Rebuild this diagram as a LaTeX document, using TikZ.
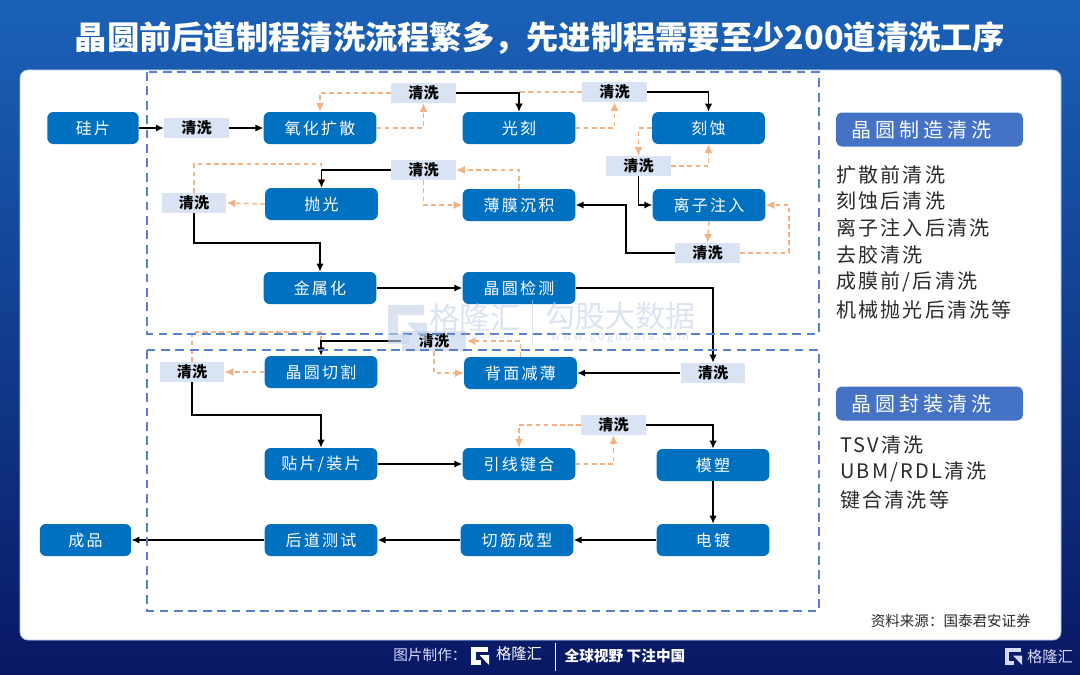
\documentclass[tikz,border=0pt]{standalone}
\usepackage{fontspec}
\setmainfont{Noto Sans CJK SC}
\newfontfamily\boxfont[LetterSpace=14]{Noto Sans CJK SC}
\newfontfamily\listfont[LetterSpace=11]{Noto Sans CJK SC}
\newfontfamily\headfont[LetterSpace=20]{Noto Sans CJK SC}
\newfontfamily\urlfont[LetterSpace=18]{Noto Sans CJK SC}
\usetikzlibrary{arrows.meta,shadings}
\definecolor{boxblue}{HTML}{0070C0}
\definecolor{cleanbg}{HTML}{DAE3F3}
\definecolor{flowor}{HTML}{F4B183}
\definecolor{framebl}{HTML}{5B7FD0}
\definecolor{headbl}{HTML}{4472C4}
\definecolor{wmark}{HTML}{C3D1E8}
\definecolor{listtx}{HTML}{2A2A2A}
\definecolor{bgtop}{RGB}{26,98,184}
\definecolor{bgmid}{RGB}{11,66,160}
\definecolor{bgbot}{RGB}{9,24,100}
\definecolor{panelrim}{HTML}{A9C4EC}
\newcommand{\glogo}[4]{%
  \draw[#4,line width=#3*0.25*0.75pt,line join=miter]
    ([shift={(#3*0.92,#3*0.13)}]#1,#2) -- ([shift={(#3*0.13,#3*0.13)}]#1,#2)
    -- ([shift={(#3*0.13,#3*0.87)}]#1,#2) -- ([shift={(#3*0.55,#3*0.87)}]#1,#2);
  \fill[#4] ([shift={(#3*0.48,#3*0.45)}]#1,#2) -- ([shift={(#3*1,#3*0.45)}]#1,#2)
    -- ([shift={(#3*1,#3*1)}]#1,#2) -- cycle;
}
\tikzset{
  x=0.75pt,y=-0.75pt,
  stage/.style={fill=boxblue,rounded corners=4.5pt,text=white,font=\boxfont\fontsize{12}{14}\selectfont,
    minimum width=84.5pt,minimum height=24pt,inner sep=0pt,draw=none},
  endstage/.style={stage,minimum width=68.5pt},
  clean/.style={fill=cleanbg,text=black,font=\fontsize{11.3}{13}\selectfont\bfseries,
    minimum width=48.5pt,minimum height=15pt,inner sep=0pt},
  go/.style={draw=black,line width=1.3pt,-{Latex[length=6pt,width=5.5pt]}},
  back/.style={draw=flowor,line width=1pt,dash pattern=on 3.5pt off 2.6pt,-{Latex[length=6.5pt,width=6pt]}},
  zone/.style={draw=framebl,line width=1.45pt,dash pattern=on 6.6pt off 4.2pt},
  head/.style={fill=headbl,rounded corners=4pt,text=white,font=\headfont\fontsize{15}{18}\selectfont,
    minimum width=140pt,minimum height=25.5pt,inner sep=0pt},
  listitem/.style={anchor=west,text=listtx,inner sep=0pt,font=\listfont\fontsize{15}{18}\selectfont},
  foot/.style={text=white,inner sep=0pt},
}
\begin{document}
\begin{tikzpicture}
\useasboundingbox (0,0) rectangle (1080,674);
\shade[top color=bgtop,middle color=bgmid,bottom color=bgbot] (0,0) rectangle (1080,674);
\fill[white,draw=panelrim,line width=0.6pt,rounded corners=6pt] (20,70) rectangle (1061,640);

\node[foot,font=\fontsize{24.2}{28}\selectfont\bfseries] (title) at (540,38) {晶圆前后道制程清洗流程繁多\symbol{"FF0C}先进制程需要至少200道清洗工序};

% stages
\node[endstage] (si) at (93,128) {硅片};
\node[stage] (ox) at (320,128) {氧化扩散};
\node[stage] (litho) at (519,128) {光刻};
\node[stage] (etch) at (708.5,128) {刻蚀};
\node[stage] (ion) at (709,205) {离子注入};
\node[stage] (film) at (519,205) {薄膜沉积};
\node[stage] (polish) at (321.5,204) {抛光};
\node[stage] (metal) at (320,288) {金属化};
\node[stage] (check) at (519,288) {晶圆检测};
\node[stage] (dice) at (321,372) {晶圆切割};
\node[stage] (thin) at (520.5,373) {背面减薄};
\node[stage] (mount) at (321,464) {贴片/装片};
\node[stage] (bond) at (519,464) {引线键合};
\node[stage] (mold) at (713,465) {模塑};
\node[stage] (plate) at (713,540) {电镀};
\node[stage] (trim) at (517,540) {切筋成型};
\node[stage] (test) at (321,540) {后道测试};
\node[endstage] (done) at (85.5,540) {成品};

% cleaning steps
\node[clean] (c1) at (196.5,128) {清洗};
\node[clean] (c2) at (423.5,93) {清洗};
\node[clean] (c3) at (614.5,92) {清洗};
\node[clean] (c4) at (638.5,166) {清洗};
\node[clean] (c5) at (707.5,253) {清洗};
\node[clean] (c6) at (423.5,170) {清洗};
\node[clean] (c7) at (194,203) {清洗};
\node[clean] (c8) at (434,341) {清洗};
\node[clean] (c9) at (713,373) {清洗};
\node[clean] (c10) at (192,372) {清洗};
\node[clean] (c11) at (613.5,425) {清洗};

% bend points
\coordinate (r1) at (789,253);
\coordinate (w1) at (626,253);
\coordinate (t1) at (194,164);
\coordinate (t2) at (321.5,164);
\coordinate (m1) at (320,243);
\coordinate (t3) at (192,332);
\coordinate (t4) at (321,332);
\coordinate (m2) at (321,415);

% dashed return flows
\draw[back] (ox.east) -| (c2.south);
\draw[back] (c2.west) -| (ox.north);
\draw[back] (litho.east) -| (c3.south);
\draw[back] (c3.west) -| (litho.north);
\draw[back] (etch.west) -| (c4.north);
\draw[back] (c4.east) -| (etch.south);
\draw[back] (ion.south) -- (c5.north);
\draw[back] (c5.east) -- (r1) |- (ion.east);
\draw[back] (film.north) |- (c6.east);
\draw[back] (c6.south) |- (film.west);
\draw[back] (polish.west) -- (c7.east);
\draw[back] (c7.north) -- (t1) -- (t2) -- (polish.north);
\draw[back] (thin.north) |- (c8.east);
\draw[back] (c8.south) |- (thin.west);
\draw[back] (dice.west) -- (c10.east);
\draw[back] (c10.north) -- (t3) -- (t4) -- (dice.north);
\draw[back] (bond.east) -| (c11.south);
\draw[back] (c11.west) -| (bond.north);

% main flow
\draw[go] (si) -- (c1);
\draw[go] (c1) -- (ox);
\draw[go] (c2.east) -| (litho.north);
\draw[go] (c3.east) -| (etch.north);
\draw[go] (c4.south) |- (ion.west);
\draw[go] (c5.west) -- (w1) |- (film.east);
\draw[go] (c6.west) -| (polish.north);
\draw[go] (c7.south) |- (m1) -- (metal.north);
\draw[go] (metal) -- (check);
\draw[go] (check.east) -| (c9.north);
\draw[go] (c9.west) -- (thin.east);
\draw[go] (c8.west) -| (dice.north);
\draw[go] (c10.south) |- (m2) -- (mount.north);
\draw[go] (mount) -- (bond);
\draw[go] (c11.east) -| (mold.north);
\draw[go] (mold) -- (plate);
\draw[go] (plate) -- (trim);
\draw[go] (trim) -- (test);
\draw[go] (test) -- (done);

% zones
\draw[zone] (147,72) rectangle (819,334);
\draw[zone] (147,350) rectangle (819,611);

% right column
\node[head] (h1) at (929.5,129.5) {晶圆制造清洗\hspace*{12pt}};
\node[listitem] (a1) at (836,175) {扩散前清洗};
\node[listitem] (a2) at (836,201) {刻蚀后清洗};
\node[listitem] (a3) at (836,228) {离子注入后清洗};
\node[listitem] (a4) at (836,255) {去胶清洗};
\node[listitem] (a5) at (836,282) {成膜前/后清洗};
\node[listitem] (a6) at (836,310) {机械抛光后清洗等};
\node[head] (h2) at (929.5,403.5) {晶圆封装清洗\hspace*{12pt}};
\node[listitem] (b1) at (840,445) {TSV清洗};
\node[listitem] (b2) at (840,472) {UBM/RDL清洗};
\node[listitem] (b3) at (840,500) {键合清洗等};

\node[anchor=east,inner sep=0pt,text=listtx,font=\fontsize{10.9}{12}\selectfont] (src) at (1031,621) {资料来源\symbol{"FF1A}国泰君安证券};

% watermark
\begin{scope}[opacity=0.6]
\glogo{388}{305}{39}{wmark}
\node[inner sep=0pt,text=wmark,font=\fontsize{23}{26}\selectfont] (w1t) at (475,318) {格隆汇};
\node[inner sep=0pt,text=wmark,font=\fontsize{22.5}{26}\selectfont] (w2t) at (620,316) {勾股大数据};
\node[inner sep=0pt,text=wmark,font=\urlfont\fontsize{8.6}{10}\selectfont] (w3t) at (620,337) {www.gogudata.com};
\node[inner sep=0pt,text=wmark,font=\fontsize{5}{6}\selectfont] (w4t) at (477,337) {www.gelonghui.com};
\draw[wmark,line width=0.6pt] (532,300) -- (532,345);
\end{scope}

% footer
\node[foot,anchor=west,text=white!85!blue,font=\fontsize{11}{14}\selectfont] (f1) at (393,655) {图片制作\symbol{"FF1A}};
\glogo{471}{647}{18}{white}
\node[foot,font=\fontsize{11.5}{14}\selectfont] (f2) at (519,654) {格隆汇};
\draw[white,line width=0.5pt] (555,643) -- (555,671);
\node[foot,font=\fontsize{11}{14}\selectfont\bfseries] (f3) at (625,656) {全球视野 下注中国};
\glogo{1005}{648}{17}{white!85!blue}
\node[foot,text=white!85!blue,font=\fontsize{11.5}{14}\selectfont] (f4) at (1050,657) {格隆汇};
\end{tikzpicture}
\end{document}
